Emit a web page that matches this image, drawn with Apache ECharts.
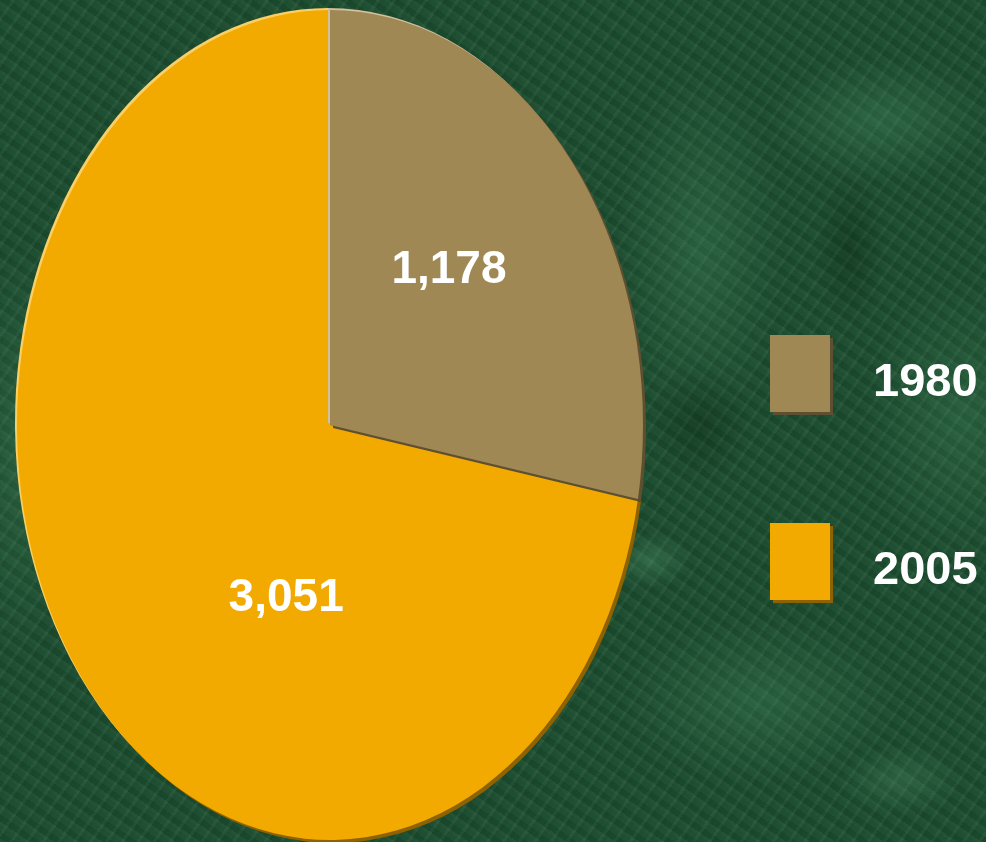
<!DOCTYPE html>
<html><head><meta charset="utf-8">
<script src="https://cdn.jsdelivr.net/npm/echarts@6/dist/echarts.min.js"></script>
<style>
html,body{margin:0;padding:0;width:986px;height:842px;overflow:hidden;}
body{
 background:
  radial-gradient(ellipse 120px 260px at 700px 250px, rgba(90,170,120,.22), transparent 70%),
  radial-gradient(ellipse 160px 90px at 880px 120px, rgba(90,170,120,.25), transparent 70%),
  radial-gradient(ellipse 140px 200px at 960px 420px, rgba(90,170,120,.2), transparent 70%),
  radial-gradient(ellipse 200px 120px at 760px 700px, rgba(90,170,120,.22), transparent 70%),
  radial-gradient(ellipse 80px 300px at 20px 450px, rgba(90,170,120,.2), transparent 70%),
  radial-gradient(ellipse 60px 40px at 650px 560px, rgba(110,190,140,.25), transparent 70%),
  radial-gradient(ellipse 90px 50px at 900px 780px, rgba(110,190,140,.2), transparent 70%),
  radial-gradient(ellipse 50px 110px at 850px 250px, rgba(0,20,5,.25), transparent 70%),
  radial-gradient(ellipse 70px 90px at 700px 420px, rgba(0,20,5,.25), transparent 70%),
  repeating-linear-gradient(35deg, rgba(255,255,255,0.035) 0 3px, rgba(0,0,0,0.05) 3px 9px, rgba(255,255,255,0.02) 9px 14px),
  repeating-linear-gradient(-55deg, rgba(0,0,0,0.06) 0 4px, rgba(255,255,255,0.03) 4px 7px, rgba(0,0,0,0.03) 7px 13px),
  #1c4e30;
}
#c{width:986px;height:842px;}
</style></head><body><div id="c"></div>
<script>
// data
const years = ['1980', '2005'];
const values = [1178, 3051];

// styling / layout (not data)
const colors = ['#A08855', '#F2A900'];
const lightEdge = ['#CFC29E', '#F9CF66'];
const darkEdge = ['#5E4F30', '#8F6200'];
const layout = { cx: 330, cy: 425, rx: 313, ry: 415, label: [[0.38, -0.373], [-0.14, 0.417]] };
const FONT = 'bold 46px "Liberation Sans", Arial, sans-serif';

const total = values.reduce((a, b) => a + b, 0);

function makeRender(i) {
  return function (params, api) {
    const cx = layout.cx, cy = layout.cy, rx = layout.rx, sy = layout.ry / layout.rx;
    let before = 0;
    for (let k = 0; k < i; k++) before += values[k];
    const v = api.value(0);
    const a0 = -Math.PI / 2 + 2 * Math.PI * before / total;
    const a1 = a0 + 2 * Math.PI * v / total;
    const sec = (dx, dy, fill) => ({
      type: 'sector', x: cx + dx, y: cy + dy, scaleY: sy,
      shape: { cx: 0, cy: 0, r0: 0, r: rx, startAngle: a0, endAngle: a1, clockwise: true },
      style: { fill: fill }
    });
    const lp = layout.label[i];
    return {
      type: 'group',
      children: [
        sec(-2, -2, lightEdge[i]),
        sec(3, 3, darkEdge[i]),
        sec(0, 0, colors[i]),
        {
          type: 'text', x: cx + lp[0] * rx, y: cy + lp[1] * layout.ry, z2: 10,
          style: { text: v.toLocaleString('en-US'), fill: '#fff', font: FONT, align: 'center', verticalAlign: 'middle' }
        }
      ]
    };
  };
}

const chart = echarts.init(document.getElementById('c'), null, { renderer: 'canvas' });
const order = [1, 0]; // draw 2005 first so 1980 bevel lies on top
chart.setOption({
  backgroundColor: 'transparent',
  animation: false,
  legend: {
    orient: 'vertical', left: 770, top: 335, padding: 0, itemWidth: 60, itemHeight: 77, itemGap: 111,
    icon: 'rect', selectedMode: false,
    data: years.map((y, i) => ({
      name: y,
      itemStyle: { color: colors[i], borderWidth: 0, shadowColor: darkEdge[i], shadowOffsetX: 3, shadowOffsetY: 3, shadowBlur: 0 }
    })),
    formatter: '{t|{name}}',
    textStyle: {
      color: '#fff', fontSize: 47, fontWeight: 'bold', fontFamily: '"Liberation Sans", Arial, sans-serif', padding: [0, 0, 0, 38],
      rich: { t: { color: '#fff', fontSize: 47, fontWeight: 'bold', fontFamily: '"Liberation Sans", Arial, sans-serif', lineHeight: 67, verticalAlign: 'bottom' } }
    }
  },
  series: order.map(i => ({
    type: 'custom', name: years[i], coordinateSystem: 'none',
    itemStyle: { color: colors[i] },
    data: [values[i]],
    renderItem: makeRender(i)
  }))
});
</script>
</body></html>
